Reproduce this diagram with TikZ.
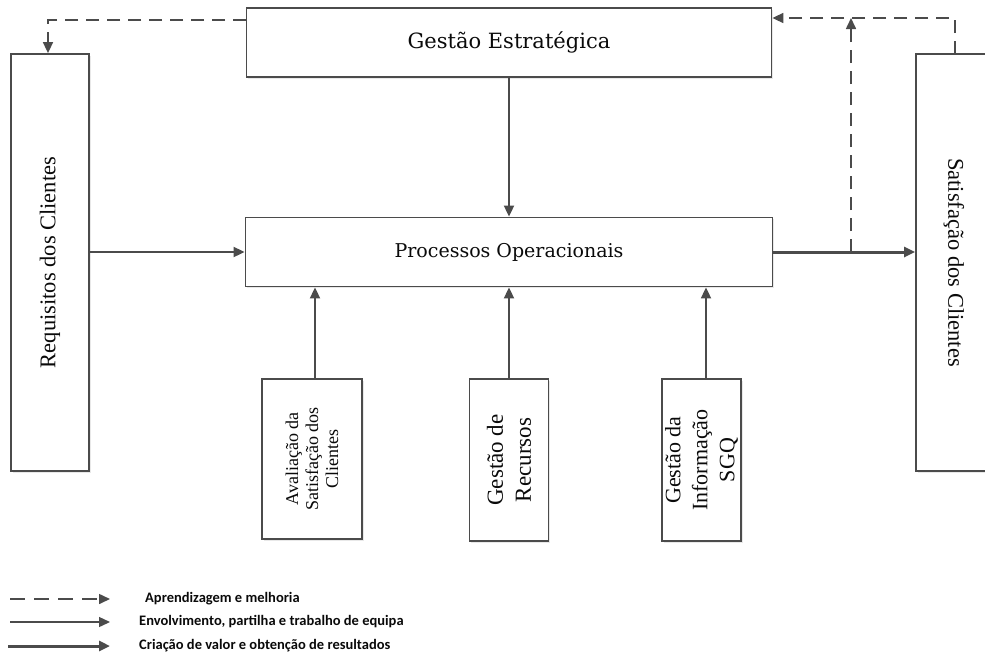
\documentclass[tikz,border=0pt]{standalone}
\usepackage{fontspec}
\setmainfont{Liberation Serif}
\newfontfamily\boxserif{DejaVu Serif}
\newfontfamily\legendfont{Carlito}
\usetikzlibrary{arrows.meta,calc,shadows}
\definecolor{linegray}{RGB}{75,75,75}
\definecolor{txt}{RGB}{10,10,10}
\tikzset{
  box/.style={draw=linegray, line width=1.8pt, fill=white, inner sep=0pt, text=txt,
    drop shadow={opacity=0.18, shadow xshift=1.5pt, shadow yshift=-1.5pt}},
  vlabel/.style={font=\fontsize{22.5}{26}\selectfont},
  tip/.style={-{Triangle[length=11pt,width=10pt]}},
  thinarrow/.style={tip, draw=linegray, line width=1.8pt},
  thickarrow/.style={tip, draw=linegray, line width=3pt},
  dasharrow/.style={tip, draw=linegray, line width=1.6pt, dash pattern=on 13pt off 8pt},
  legtext/.style={anchor=west, inner sep=0pt, text=txt, font=\legendfont\bfseries\fontsize{14.5}{16}\selectfont}
}
\begin{document}
\begin{tikzpicture}[x=1pt,y=-1pt]
\useasboundingbox (0,0) rectangle (985,657);
\fill[white] (0,0) rectangle (985,657);
\begin{scope}
\clip (0,0) rectangle (985,657);
% boxes
\node[box, font=\boxserif\fontsize{21}{24}\selectfont, minimum width=525pt, minimum height=69pt] (ge) at (509,42.5) {Gestão Estratégica};
\node[box, font=\boxserif\fontsize{19}{22}\selectfont, minimum width=527pt, minimum height=69pt] (po) at (509,252) {Processos Operacionais};
\node[box, minimum width=78pt, minimum height=417pt] (req) at (50,262.5) {};
\node[vlabel, rotate=90, text=txt] (reqt) at (50,262.5) {Requisitos dos Clientes};
\node[box, minimum width=100pt, minimum height=417pt] (sat) at (966,262.5) {};
\node[vlabel, rotate=-90, text=txt] (satt) at (954,262.5) {Satisfação dos Clientes};
\node[box, minimum width=100pt, minimum height=160pt] (av) at (312,459) {};
\node[rotate=90, align=center, text=txt, font=\fontsize{18}{20}\selectfont] (avt) at (312,459) {Avaliação da\\Satisfação dos\\Clientes};
\node[box, minimum width=79pt, minimum height=162pt] (rec) at (509,460) {};
\node[rotate=90, align=center, text=txt, font=\fontsize{23}{28}\selectfont] (rect) at (509,460) {Gestão de\\Recursos};
\node[box, minimum width=79pt, minimum height=162pt] (inf) at (701.5,460) {};
\node[rotate=90, align=center, text=txt, font=\fontsize{22}{27}\selectfont] (inft) at (701.5,460) {Gestão da\\Informação\\SGQ};
\end{scope}
% solid connectors
\draw[thinarrow] (ge.south) -- (po.north);
\draw[thinarrow] (req.east |- po.west) -- (po.west);
\draw[thinarrow] (av.north -| 315,0) -- (po.south -| 315,0);
\draw[thinarrow] (rec.north) -- (rec.north |- po.south);
\draw[thinarrow] (inf.north -| 706,0) -- (po.south -| 706,0);
\draw[thickarrow] (po.east) -- (po.east -| sat.west);
% dashed feedback
\coordinate (j) at (851,252);
\coordinate (topr) at (955,18);
\coordinate (satn) at (955,54);
\coordinate (gel) at (246,20);
\draw[dasharrow] (j) -- (j |- topr);
\draw[dasharrow] (satn) -- (topr) -- (topr -| ge.east);
\draw[dasharrow] (gel) -| (req.north -| 48,0);
% legend
\coordinate (l1a) at (10,599); \coordinate (l1b) at (110,599);
\coordinate (l2a) at (10,622); \coordinate (l2b) at (110,622);
\coordinate (l3a) at (8,646);  \coordinate (l3b) at (110,646);
\draw[dasharrow, dash pattern=on 15pt off 9pt] (l1a) -- (l1b);
\draw[thinarrow, line width=1.4pt] (l2a) -- (l2b);
\draw[thickarrow] (l3a) -- (l3b);
\node[legtext] (t1) at (145,599) {Aprendizagem e melhoria};
\node[legtext] (t2) at (139,622) {Envolvimento, partilha e trabalho de equipa};
\node[legtext] (t3) at (139,646) {Criação de valor e obtenção de resultados};
\end{tikzpicture}
\end{document}
